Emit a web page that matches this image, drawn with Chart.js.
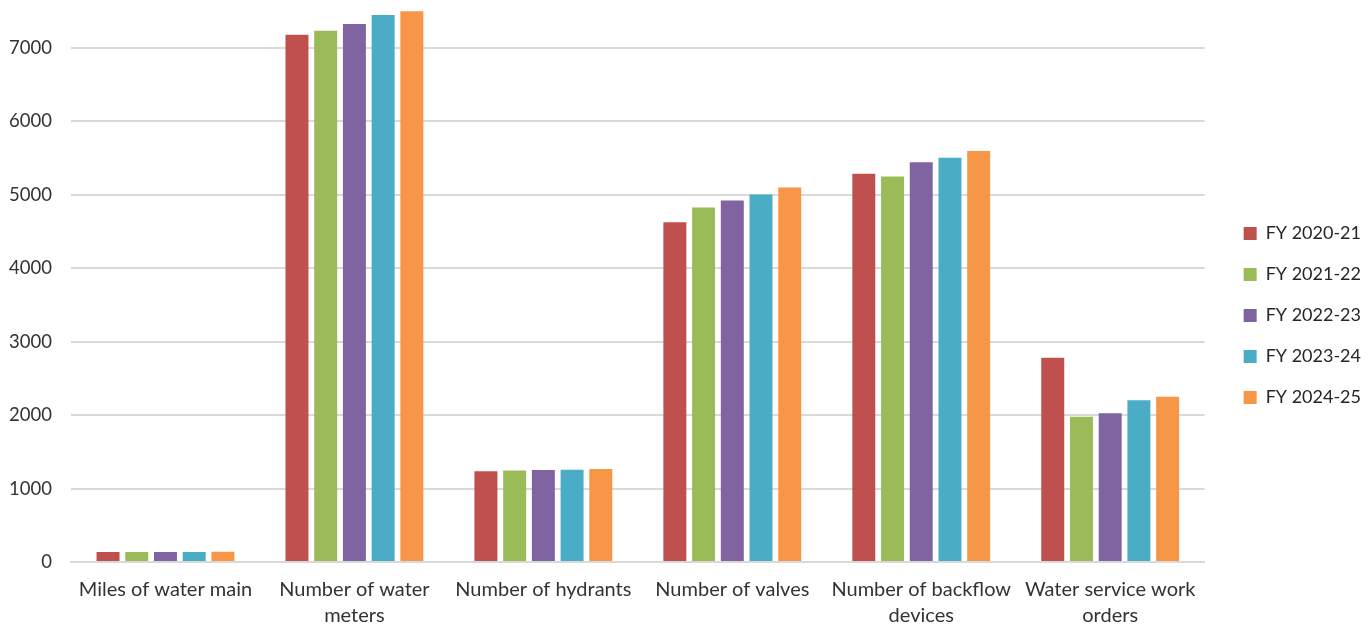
<!DOCTYPE html>
<html>
<head>
<meta charset="utf-8">
<script src="https://cdn.jsdelivr.net/npm/chart.js@4"></script>
<style>
    html, body { margin: 0; padding: 0; background: #fff; }
    #wrap { width: 1371px; height: 627px; }
</style>
</head>
<body>
<div id="wrap"><canvas id="assetChart" width="1371" height="627"></canvas></div>
<script>
// categories (wrapped like the original axis labels)
let categories = [
    ['Miles of water main'],
    ['Number of water', 'meters'],
    ['Number of hydrants'],
    ['Number of valves'],
    ['Number of backflow', 'devices'],
    ['Water service work', 'orders']
];

let years = ['FY 2020-21', 'FY 2021-22', 'FY 2022-23', 'FY 2023-24', 'FY 2024-25'];

// values per fiscal year
let fy2021 = [136, 7181, 1235, 4626, 5288, 2782];
let fy2122 = [136, 7236, 1245, 4830, 5252, 1979];
let fy2223 = [136, 7327, 1252, 4925, 5443, 2025];
let fy2324 = [136, 7449, 1256, 5007, 5506, 2202];
let fy2425 = [140, 7500, 1266, 5102, 5597, 2251];

let yTicks = [0, 1000, 2000, 3000, 4000, 5000, 6000, 7000];

let colors = ['#C0504D', '#9BBB59', '#8064A2', '#4BACC6', '#F79646'];
let series = [fy2021, fy2122, fy2223, fy2324, fy2425];

let datasets = [];
for (let i = 0; i < years.length; i++) {
    datasets.push({
        label: years[i],
        data: series[i],
        backgroundColor: colors[i],
        barPercentage: 0.8,
        categoryPercentage: 0.76
    });
}

// push the legend to the right edge, leaving a gap after the plot
const legendShift = {
    id: 'legendShift',
    afterLayout: function (chart) {
        let lg = chart.legend;
        lg.left += 16;
        lg.right += 16;
    }
};

Chart.defaults.font.family = 'Lato, "Open Sans", sans-serif';
Chart.defaults.color = '#333333';

let ctx = document.getElementById('assetChart').getContext('2d');
let chart = new Chart(ctx, {
    type: 'bar',
    data: {
        labels: categories,
        datasets: datasets
    },
    plugins: [legendShift],
    options: {
        responsive: false,
        animation: false,
        layout: {
            padding: { top: 4, right: 16, left: 0, bottom: 0 }
        },
        plugins: {
            tooltip: { enabled: false },
            legend: {
                position: 'right',
                labels: {
                    boxWidth: 13,
                    boxHeight: 13,
                    padding: 23,
                    color: '#262626',
                    font: { size: 18 }
                }
            }
        },
        scales: {
            x: {
                grid: { display: false, drawTicks: false },
                border: { color: '#d9d9d9', width: 2 },
                ticks: {
                    color: '#333333',
                    font: { size: 20, lineHeight: 1.3 },
                    padding: 15,
                    maxRotation: 0
                },
                afterFit: function (axis) {
                    axis.height = 65;
                }
            },
            y: {
                min: 0,
                max: 7600,
                afterBuildTicks: function (axis) {
                    axis.ticks = yTicks.map(function (v) { return { value: v }; });
                },
                afterFit: function (axis) {
                    axis.paddingTop = 0;
                    axis.width = 71;
                },
                grid: { color: '#d9d9d9', lineWidth: 2, drawTicks: false },
                border: { display: false },
                ticks: {
                    color: '#333333',
                    font: { size: 18.5 },
                    padding: 19,
                    callback: function (value) { return String(value); }
                }
            }
        }
    }
});
</script>
</body>
</html>
